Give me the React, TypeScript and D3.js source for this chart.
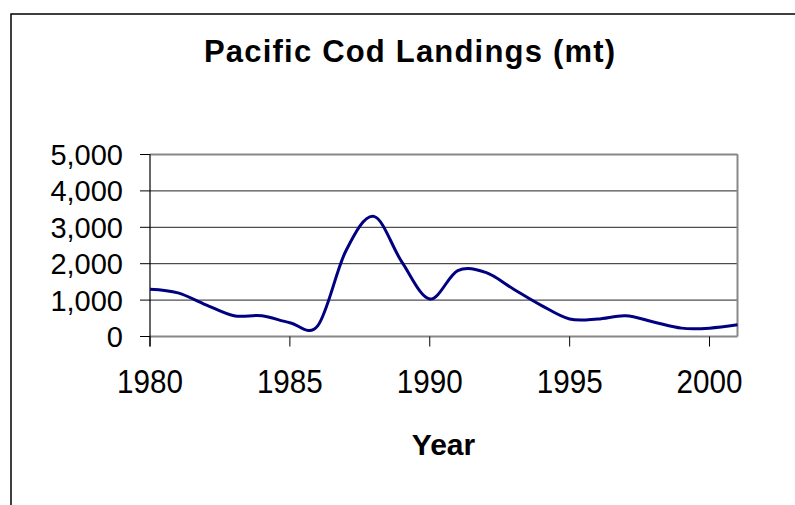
import React from "react";
import * as d3 from "d3";

const years = [1980,1981,1982,1983,1984,1985,1986,1987,1988,1989,1990,1991,1992,1993,1994,1995,1996,1997,1998,1999,2000,2001];
const landings = [1300,1200,870,570,570,380,300,2350,3300,2050,1030,1810,1760,1300,850,480,480,570,400,230,230,320];
const yTicks = [0,1000,2000,3000,4000,5000];
const xTicks = [1980,1985,1990,1995,2000];
const title = "Pacific Cod Landings (mt)";
const xTitle = "Year";

export default function App() {
  const W = 795, H = 505;
  const left = 150, right = 737.5, top = 154.5, bottom = 336.5;
  const x = d3.scaleLinear().domain([1980, 2001]).range([left, right]);
  const y = d3.scaleLinear().domain([0, 5000]).range([bottom, top]);
  const line = d3.line<number>()
    .x((_, i) => x(years[i]))
    .y((d) => y(d))
    .curve(d3.curveCatmullRom.alpha(0));
  const font = "Arial, 'Liberation Sans', sans-serif";
  return (
    <svg width={W} height={H} style={{ position: "absolute", left: 0, top: 0 }} fontFamily={font}>
      <rect x={0} y={0} width={W} height={H} fill="#fff" />
      <rect x={11} y={14} width={W + 50} height={H + 50} fill="none" stroke="#000" strokeWidth={1.5} />
      <text x={409.5} y={62} textAnchor="middle" fontWeight="bold" fontSize={31} textLength={411} lengthAdjust="spacing">{title}</text>
      {yTicks.filter(t => t > 0).map(t => (
        <line key={"g" + t} x1={left} x2={right} y1={y(t)} y2={y(t)} stroke="#222" strokeWidth={1} />
      ))}
      <line x1={left} x2={right} y1={top} y2={top} stroke="#888" strokeWidth={2} />
      <line x1={right} x2={right} y1={top} y2={bottom} stroke="#888" strokeWidth={2} />
      <line x1={left} x2={right} y1={bottom} y2={bottom} stroke="#888" strokeWidth={2} />
      <line x1={left} x2={left} y1={top} y2={bottom + 10} stroke="#000" strokeWidth={1.2} />
      {yTicks.map(t => (
        <g key={"y" + t}>
          <line x1={left - 10} x2={left} y1={y(t)} y2={y(t)} stroke="#000" strokeWidth={1} />
          <text x={123} y={y(t)} dy="0.36em" textAnchor="end" fontSize={29}>{d3.format(",")(t)}</text>
        </g>
      ))}
      {xTicks.map(t => (
        <g key={"x" + t}>
          <line x1={x(t)} x2={x(t)} y1={bottom} y2={bottom + 10} stroke="#000" strokeWidth={1} />
          <text x={x(t)} y={393} textAnchor="middle" fontSize={33} textLength={66} lengthAdjust="spacingAndGlyphs">{t}</text>
        </g>
      ))}
      <path d={line(landings) || ""} fill="none" stroke="#000080" strokeWidth={3} strokeLinejoin="round" />
      <text x={443.5} y={455} textAnchor="middle" fontWeight="bold" fontSize={30}>{xTitle}</text>
    </svg>
  );
}
